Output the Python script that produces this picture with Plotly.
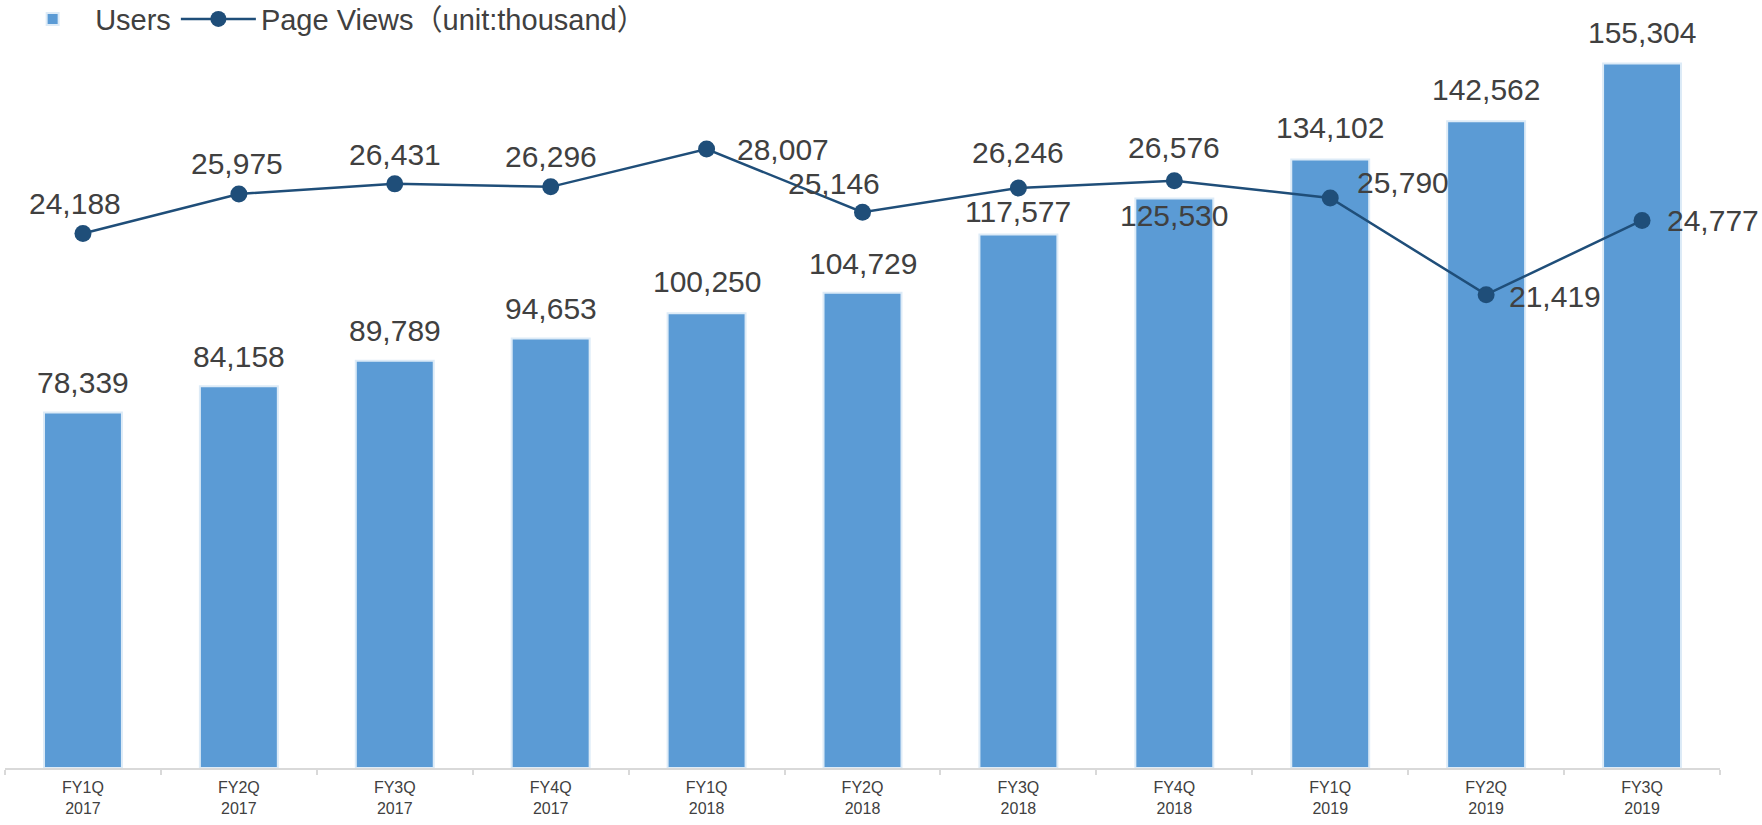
import plotly.graph_objects as go

# ---- data ----
categories = ["FY1Q<br>2017", "FY2Q<br>2017", "FY3Q<br>2017", "FY4Q<br>2017",
              "FY1Q<br>2018", "FY2Q<br>2018", "FY3Q<br>2018", "FY4Q<br>2018",
              "FY1Q<br>2019", "FY2Q<br>2019", "FY3Q<br>2019"]
users = [78339, 84158, 89789, 94653, 100250, 104729, 117577, 125530, 134102, 142562, 155304]
page_views = [24188, 25975, 26431, 26296, 28007, 25146, 26246, 26576, 25790, 21419, 24777]

# ---- label placement (style only) ----
user_label_yshift = [30, 30, 30, 30, 32, 29, 23, -17, 32, 32, 31]
pv_label_xanchor = ["center", "center", "center", "center", "left", "center",
                    "center", "center", "left", "left", "left"]
pv_label_xshift = [-8, -2, 0, 0, 28, -29, 0, 0, 25, 21, 23]
pv_label_yshift = [30, 30, 29, 30, 0, 29, 35, 33, 16, -2, 0]

FONT = "Arial, 'Liberation Sans', 'Noto Sans CJK SC', sans-serif"
TXT = "#404040"
BAR = "#5B9BD5"
LINE = "#1F4E79"

fig = go.Figure()
fig.add_trace(go.Bar(
    x=categories, y=users, name="Users",
    marker=dict(color=BAR, line=dict(color="#DDEBF7", width=2)),
    width=0.5, yaxis="y",
))
fig.add_trace(go.Scatter(
    x=categories, y=page_views, name="Page Views（unit:thousand）",
    mode="lines+markers", yaxis="y2",
    line=dict(color=LINE, width=2.5),
    marker=dict(color=LINE, size=17),
))

annotations = []
for c, v, dy in zip(categories, users, user_label_yshift):
    annotations.append(dict(
        x=c, y=v, xref="x", yref="y", text=f"{v:,}", showarrow=False,
        xanchor="center", yanchor="middle", yshift=dy,
        font=dict(size=30, color=TXT, family=FONT),
    ))
for c, v, xa, dx, dy in zip(categories, page_views, pv_label_xanchor,
                            pv_label_xshift, pv_label_yshift):
    annotations.append(dict(
        x=c, y=v, xref="x", yref="y2", text=f"{v:,}", showarrow=False,
        xanchor=xa, yanchor="middle", xshift=dx, yshift=dy,
        font=dict(size=30, color=TXT, family=FONT),
    ))

fig.update_layout(
    width=1762, height=825,
    margin=dict(l=5, r=42, t=20, b=57, autoexpand=False),
    paper_bgcolor="white", plot_bgcolor="white",
    font=dict(family=FONT, color=TXT),
    annotations=annotations,
    showlegend=True,
    legend=dict(orientation="h", x=0.003, y=1.0013, xanchor="left", yanchor="middle",
                font=dict(size=29, color=TXT, family=FONT),
                bgcolor="rgba(0,0,0,0)", itemwidth=75, traceorder="normal"),
    xaxis=dict(type="category", range=[-0.5, 10.5], tickson="boundaries",
               ticks="outside", ticklen=5, tickcolor="#D9D9D9", tickwidth=2,
               showline=True, linecolor="#D9D9D9", linewidth=2,
               showgrid=False, zeroline=False, automargin=False,
               ticklabelstandoff=4,
               tickfont=dict(size=16, color=TXT, family=FONT)),
    yaxis=dict(range=[0, 164870], visible=False, showgrid=False, zeroline=False),
    yaxis2=dict(range=[0, 33846], overlaying="y", visible=False,
                showgrid=False, zeroline=False),
    bargap=0.5,
)

fig.write_html("out.html",
               config={"displayModeBar": False},
               post_script="document.body.style.margin='0px';document.body.style.padding='0px';")
